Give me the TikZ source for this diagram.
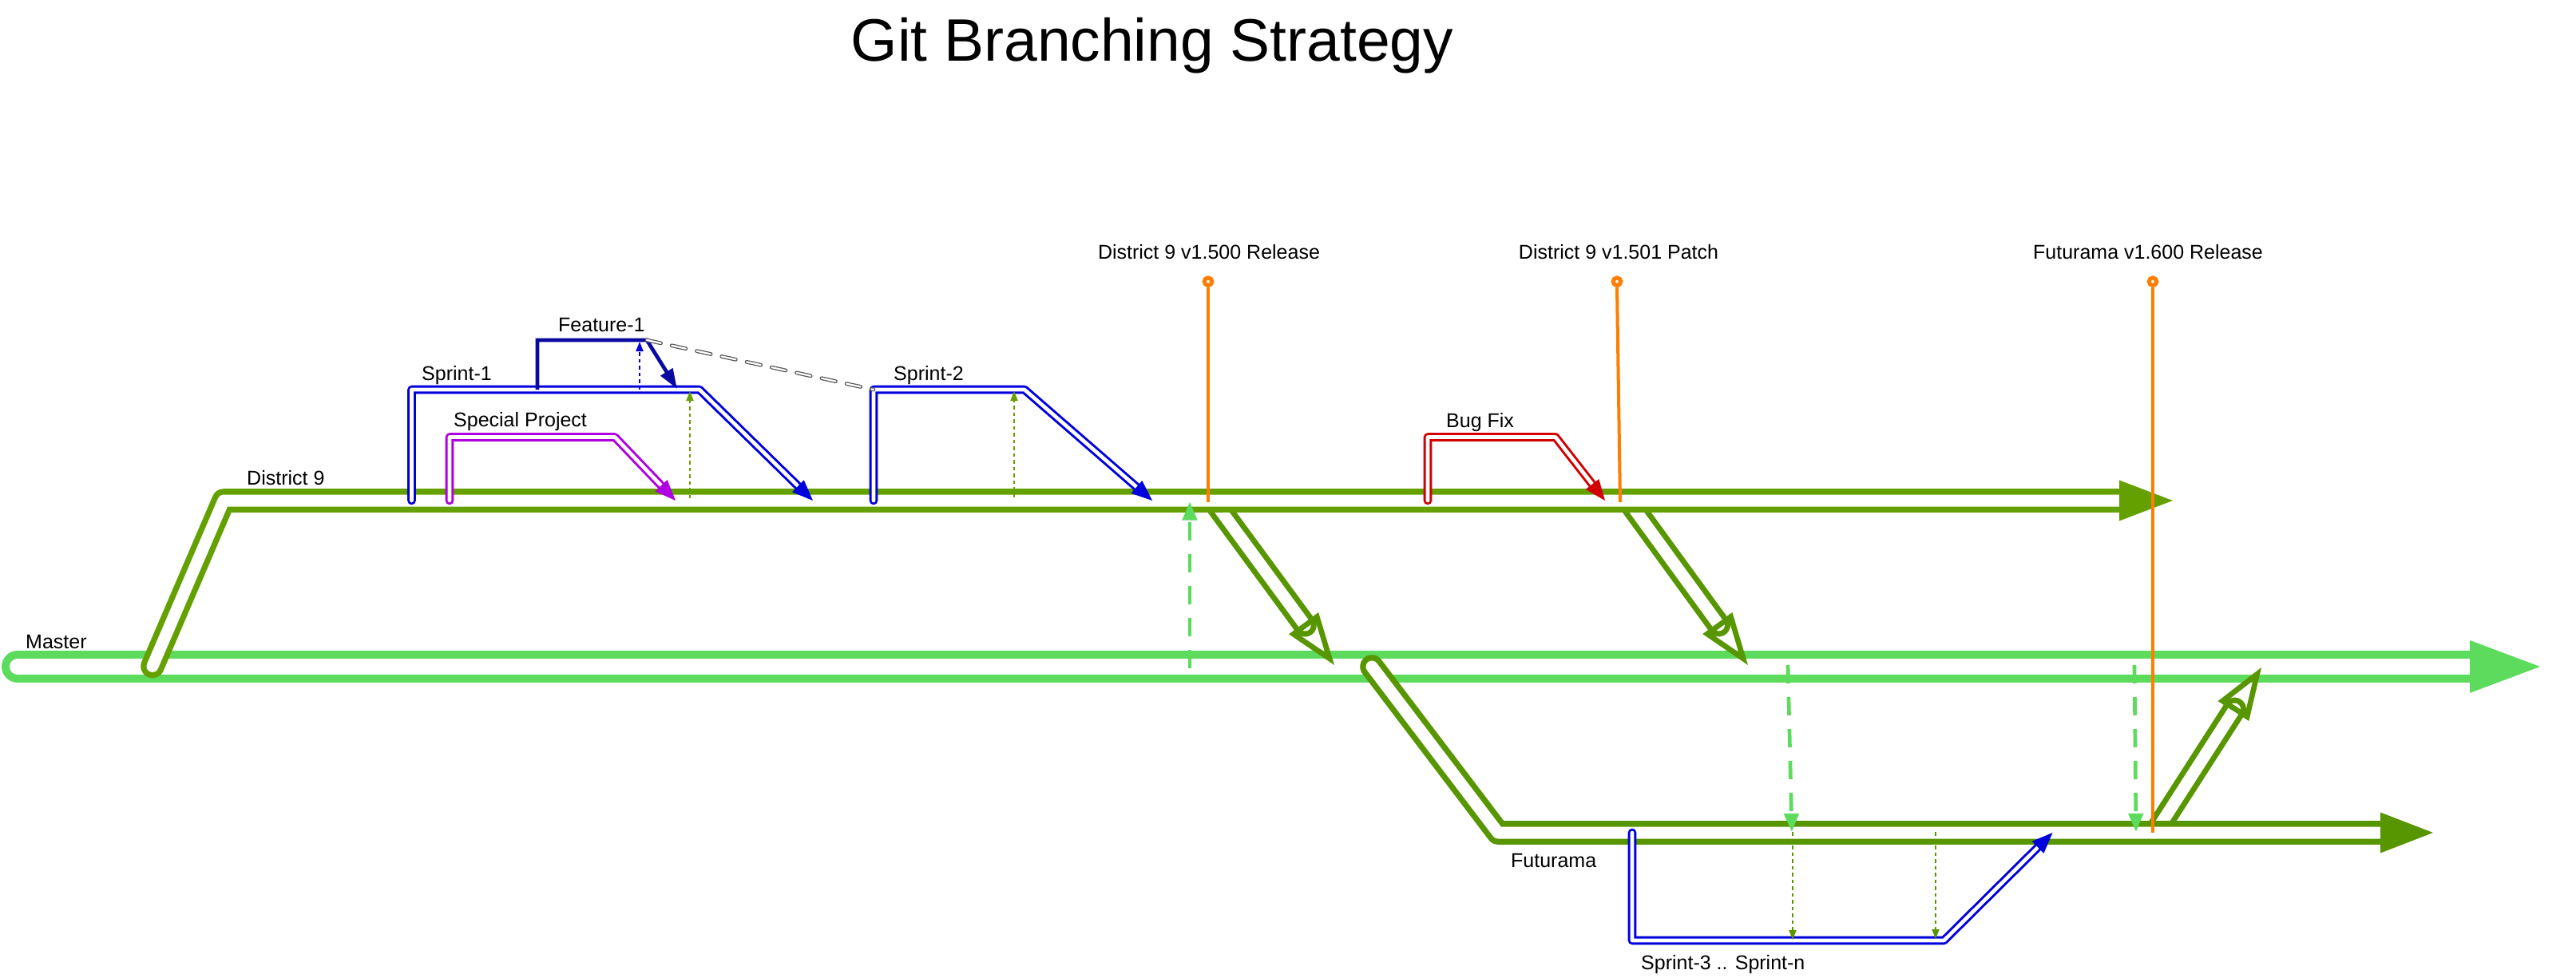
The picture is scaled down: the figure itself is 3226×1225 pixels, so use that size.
\documentclass[tikz,border=0pt]{standalone}
\usepackage{fontspec}
\setmainfont{Liberation Sans}
\usetikzlibrary{calc,arrows.meta}
\definecolor{mgreen}{RGB}{92,219,92}
\definecolor{dgreen}{RGB}{99,160,0}
\definecolor{fgreen}{RGB}{88,150,0}
\definecolor{sblue}{RGB}{0,0,220}
\definecolor{fblue}{RGB}{10,10,160}
\definecolor{spmag}{RGB}{175,0,225}
\definecolor{bred}{RGB}{210,0,0}
\definecolor{rorange}{RGB}{255,125,0}
\definecolor{dgray}{RGB}{90,90,90}
% filled arrow head: colour, tip, point it comes from
\newcommand\solidhead[3]{%
  \path ($(#2)!26pt!(#3)$) coordinate (hb);
  \fill[#1] (#2) -- ($(hb)!10.5pt!90:(#2)$) -- ($(hb)!10.5pt!-90:(#2)$) -- cycle;}
% hollow arrow head of the merge pipes
\newcommand\hollowhead[3]{%
  \path ($(#2)!10pt!(#3)$) coordinate (ht) ($(#2)!61.6pt!(#3)$) coordinate (hb);
  \draw[#1, line width=6.7pt, line join=miter] (ht) -- ($(hb)!18.3pt!90:(#2)$) -- ($(hb)!18.3pt!-90:(#2)$) -- cycle;}
\begin{document}
\begin{tikzpicture}[x=1pt,y=-1pt,
  lbl/.style={inner sep=0pt, font=\fontsize{25pt}{30pt}\selectfont, anchor=base west},
  clbl/.style={inner sep=0pt, font=\fontsize{25pt}{30pt}\selectfont, anchor=base},
  masterpipe/.style={draw=mgreen, line width=10pt, double=white, double distance=20pt, line cap=round},
  d9pipe/.style={draw=dgreen, line width=7.3pt, double=white, double distance=15pt, line cap=round, line join=round},
  futpipe/.style={d9pipe, draw=fgreen},
  mergepipe/.style={draw=fgreen, line width=7pt, double=white, double distance=15pt, line cap=round},
  thinpipe/.style={draw=#1, line width=3pt, double=white, double distance=4.7pt, line cap=round, line join=round},
  mdash/.style={draw=mgreen, line width=4.7pt, dash pattern=on 23pt off 17pt, -{Triangle[length=23pt,width=18pt]}},
  dotarrow/.style={draw=#1, line width=2pt, dash pattern=on 4.5pt off 4pt, -{Triangle[length=12pt,width=9pt]}},
  relline/.style={draw=rorange, line width=4pt},
  relmark/.style={draw=rorange, line width=5pt, fill=white, circle, inner sep=0pt, minimum size=9.6pt},
  grayconn/.style={draw=dgray, line width=1.3pt, double=white, double distance=2.2pt, dash pattern=on 18pt off 14pt, line cap=round},
  featline/.style={draw=fblue, line width=4.7pt, -{Triangle[length=25pt,width=17pt]}},
]
\useasboundingbox (0,0) rectangle (3226,1225);

% ---------- Master ----------
\coordinate (mS) at (22,835);
\coordinate (mE) at (3093,835);
\coordinate (mT) at (3181,835);
\draw[masterpipe] (mS) -- (mE);
\fill[mgreen] ($(mE)+(0,-33)$) -- (mT) -- ($(mE)+(0,33)$) -- cycle;

% ---------- merges into master ----------
\coordinate (g1S) at (1519.5,627); \coordinate (g1T) at (1671,833);
\coordinate (g2S) at (2039,627);   \coordinate (g2T) at (2189,833);
\coordinate (g3S) at (2699,1043);  \coordinate (g3T) at (2832,836);
\draw[mergepipe] (g1S) -- ($(g1T)!62pt!(g1S)$);
\hollowhead{fgreen}{g1T}{g1S}
\draw[mergepipe] (g2S) -- ($(g2T)!62pt!(g2S)$);
\hollowhead{fgreen}{g2T}{g2S}
\draw[mergepipe] (g3S) -- ($(g3T)!62pt!(g3S)$);
\hollowhead{fgreen}{g3T}{g3S}

% ---------- District 9 ----------
\coordinate (dS) at (191,834.5);
\coordinate (dC) at (280,627);
\coordinate (dE) at (2654,627);
\coordinate (dT) at (2721,627);
\draw[d9pipe] (dS) -- (dC) -- (dE);
\fill[dgreen] ($(dE)+(0,-25.5)$) -- (dT) -- ($(dE)+(0,25.5)$) -- cycle;

% ---------- Futurama ----------
\coordinate (fS) at (1718,835);
\coordinate (fC) at (1876,1043);
\coordinate (fE) at (2981,1043);
\coordinate (fT) at (3047,1043);
\draw[futpipe] (fS) -- (fC) -- (fE);
\fill[fgreen] ($(fE)+(0,-25.5)$) -- (fT) -- ($(fE)+(0,25.5)$) -- cycle;

% ---------- master -> branch dashed arrows ----------
\coordinate (a1S) at (1490,837);  \coordinate (a1T) at (1490,628.5);
\coordinate (a2S) at (2239,833);  \coordinate (a2T) at (2244,1042);
\coordinate (a3S) at (2673,833);  \coordinate (a3T) at (2675,1042);
\draw[mdash] (a1S) -- (a1T);
\draw[mdash] (a2S) -- (a2T);
\draw[mdash] (a3S) -- (a3T);

% ---------- Sprint-1 ----------
\coordinate (s1S) at (515.5,627); \coordinate (s1A) at (515.5,488);
\coordinate (s1B) at (876,488);   \coordinate (s1T) at (1018,627);
\draw[thinpipe=sblue] (s1S) -- (s1A) -- (s1B) -- ($(s1T)!24pt!(s1B)$);
\solidhead{sblue}{s1T}{s1B}

% ---------- Special Project ----------
\coordinate (spS) at (563,627); \coordinate (spA) at (563,547.5);
\coordinate (spB) at (770,547.5); \coordinate (spT) at (846,627);
\draw[thinpipe=spmag] (spS) -- (spA) -- (spB) -- ($(spT)!24pt!(spB)$);
\solidhead{spmag}{spT}{spB}

% ---------- Sprint-2 ----------
\coordinate (s2S) at (1094,627); \coordinate (s2A) at (1094,488);
\coordinate (s2B) at (1283,488); \coordinate (s2T) at (1443,627);
\draw[thinpipe=sblue] (s2S) -- (s2A) -- (s2B) -- ($(s2T)!24pt!(s2B)$);
\solidhead{sblue}{s2T}{s2B}

% ---------- Bug Fix ----------
\coordinate (bfS) at (1788,627); \coordinate (bfA) at (1788,547.5);
\coordinate (bfB) at (1948,547.5); \coordinate (bfT) at (2010,627);
\draw[thinpipe=bred] (bfS) -- (bfA) -- (bfB) -- ($(bfT)!24pt!(bfB)$);
\solidhead{bred}{bfT}{bfB}

% ---------- Sprint-3 .. Sprint-n ----------
\coordinate (s3S) at (2044,1043); \coordinate (s3A) at (2044,1178);
\coordinate (s3B) at (2434.5,1178); \coordinate (s3T) at (2570.5,1043);
\draw[thinpipe=sblue] (s3S) -- (s3A) -- (s3B) -- ($(s3T)!24pt!(s3B)$);
\solidhead{sblue}{s3T}{s3B}

% ---------- Feature-1 ----------
\coordinate (fe0) at (673,488); \coordinate (fe1) at (673,426);
\coordinate (fe2) at (810,426); \coordinate (fe3) at (848,487);
\draw[featline] (fe0) -- (fe1) -- (fe2) -- (fe3);

% ---------- dotted sync arrows ----------
\coordinate (o1S) at (801,488);   \coordinate (o1T) at (801,428);
\coordinate (o2S) at (864,624);   \coordinate (o2T) at (864,490);
\coordinate (o3S) at (1270,623);  \coordinate (o3T) at (1270,490);
\coordinate (o4S) at (2245,1042); \coordinate (o4T) at (2245,1177);
\coordinate (o5S) at (2424,1042); \coordinate (o5T) at (2424,1176);
\draw[dotarrow=sblue] (o1S) -- (o1T);
\draw[dotarrow=dgreen] (o2S) -- (o2T);
\draw[dotarrow=dgreen] (o3S) -- (o3T);
\draw[dotarrow=fgreen] (o4S) -- (o4T);
\draw[dotarrow=fgreen] (o5S) -- (o5T);

% ---------- grey dashed link Feature-1 -> Sprint-2 ----------
\draw[grayconn] (fe2) -- (s2A);

% ---------- releases ----------
\node[relmark] (r1) at (1513,352.7) {};
\node[relmark] (r2) at (2025,352.7) {};
\node[relmark] (r3) at (2696,352.7) {};
\coordinate (r1E) at (1513,629);
\coordinate (r2E) at (2029,629);
\coordinate (r3E) at (2696,1043);
\draw[relline] (r1.south) -- (r1E);
\draw[relline] (r2.south) -- (r2E);
\draw[relline] (r3.south) -- (r3E);

% ---------- texts ----------
\node[inner sep=0pt, anchor=base, font=\fontsize{75pt}{90pt}\selectfont] (title) at (1443,77) {Git Branching Strategy};
\node[lbl] (lMaster) at (32,812) {Master};
\node[lbl] (lD9) at (309,607) {District 9};
\node[lbl] (lS1) at (528,476) {Sprint-1};
\node[lbl] (lF1) at (699,415) {Feature-1};
\node[lbl] (lSP) at (568,534.5) {Special Project};
\node[lbl] (lS2) at (1119,476) {Sprint-2};
\node[lbl] (lBF) at (1811,535.5) {Bug Fix};
\node[lbl] (lFut) at (1892,1086) {Futurama};
\node[lbl] (lS3) at (2055,1214) {Sprint-3 .. Sprint-n};
\node[clbl] (lR1) at (1514,324) {District 9 v1.500 Release};
\node[clbl] (lR2) at (2027,324) {District 9 v1.501 Patch};
\node[clbl] (lR3) at (2690,324) {Futurama v1.600 Release};
\end{tikzpicture}
\end{document}
